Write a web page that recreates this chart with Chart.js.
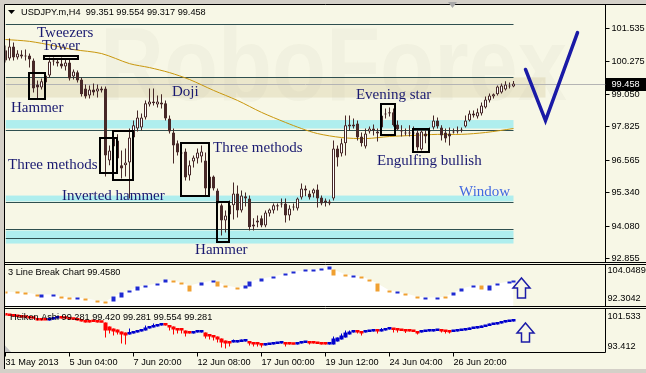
<!DOCTYPE html>
<html>
<head>
<meta charset="utf-8">
<script src="https://cdn.jsdelivr.net/npm/chart.js@4.4.1/dist/chart.umd.min.js"></script>
<style>
  html, body { margin:0; padding:0; width:646px; height:373px; overflow:hidden; background:#d4d0c8; }
  #bg { position:absolute; left:4px; top:4px; width:642px; height:365px; background:#f7f7e6; }
  canvas { position:absolute; left:0; }
</style>
</head>
<body>
<div id="bg"></div>
<canvas id="cMain" width="646" height="264" style="top:0;width:646px;height:264px"></canvas>
<canvas id="cLB" width="646" height="44" style="top:263px;width:646px;height:44px"></canvas>
<canvas id="cHA" width="646" height="66" style="top:307px;width:646px;height:66px"></canvas>
<script>
// ---------- DATA ----------
const categories = Array.from({length: 151}, (_, i) => i);   // H4 bar slots (incl. right shift)

const open = [100.71,100.40,100.86,100.44,100.55,100.48,100.52,100.33,99.42,99.31,
 99.50,99.76,100.29,100.29,100.21,100.10,100.25,99.72,99.88,99.61,
 99.27,99.01,99.23,99.16,99.27,99.27,96.55,97.42,97.31,96.37,
 96.37,96.48,97.42,97.76,97.80,98.18,98.67,98.78,98.67,98.74,
 98.71,98.14,97.61,97.20,96.86,96.89,95.99,96.52,96.63,96.70,
 96.55,95.50,95.95,95.42,94.86,94.29,94.52,94.86,95.31,94.67,
 95.20,95.12,94.06,94.21,94.37,94.10,94.55,94.67,94.82,94.89,
 94.93,94.48,94.78,94.74,95.16,95.50,95.31,95.31,95.46,95.16,
 94.97,94.93,95.12,97.01,96.82,97.20,97.84,97.91,97.95,97.46,
 97.08,97.65,97.76,97.65,97.80,98.29,98.33,98.37,97.91,97.69,
 97.61,97.61,97.57,97.61,96.97,97.57,97.65,97.80,98.06,97.80,
 97.61,97.57,97.65,97.65,97.69,97.84,98.06,98.33,98.21,98.33,
 98.55,98.82,98.97,99.05,99.12,99.23,99.35,99.351];
const high = [100.89,101.16,101.01,100.71,100.71,100.74,100.59,100.40,99.57,99.65,
 99.88,100.44,100.44,100.40,100.44,100.40,100.40,99.99,99.95,99.69,
 99.42,99.38,99.46,99.42,99.35,99.35,97.12,97.57,97.54,96.93,
 97.01,97.76,98.06,98.44,98.33,98.82,99.27,99.27,99.01,99.05,
 98.82,98.25,97.76,97.31,96.93,97.01,96.55,96.74,97.01,97.12,
 96.86,96.10,95.99,95.50,94.93,94.67,95.04,95.72,95.61,95.42,
 95.35,95.23,94.37,94.48,94.48,94.67,94.74,94.93,94.93,95.12,
 95.12,94.86,94.93,95.16,95.69,95.61,95.42,95.50,95.65,95.23,
 95.12,95.08,97.31,97.12,97.38,98.25,98.25,98.14,98.06,97.61,
 97.76,97.84,97.91,97.76,98.44,98.52,98.55,98.52,98.06,97.88,
 97.76,97.88,97.84,97.76,97.76,97.76,97.80,98.25,98.18,97.88,
 97.76,97.80,97.76,97.84,97.80,98.25,98.44,98.44,98.52,98.74,
 98.97,99.08,99.08,99.38,99.46,99.54,99.50,99.554];
const low = [100.25,100.33,100.33,100.37,100.40,100.33,100.06,99.12,98.89,99.23,
 99.27,99.69,100.14,100.10,100.03,99.95,99.57,99.61,99.50,98.97,
 98.89,98.89,99.01,98.93,99.12,95.95,96.37,96.93,96.48,95.87,
 95.95,95.12,97.31,97.65,97.69,98.10,98.59,98.63,98.55,98.52,
 98.06,97.57,96.44,96.74,96.55,95.80,95.80,96.29,96.44,96.48,
 95.23,95.35,95.42,94.82,93.72,93.84,94.44,94.33,94.40,94.59,
 94.82,93.91,93.91,94.03,94.03,94.03,94.44,94.55,94.67,94.78,
 94.21,94.29,94.67,94.67,95.08,95.20,95.08,95.16,94.78,94.86,
 94.82,94.86,95.04,96.33,96.70,96.74,97.69,97.76,97.31,97.08,
 97.01,97.57,97.50,97.27,97.76,98.14,98.21,97.84,97.69,97.46,
 97.50,97.46,97.42,96.93,96.93,97.20,97.54,97.72,97.76,97.31,
 97.23,97.12,97.57,97.57,97.61,97.80,98.03,98.18,98.14,98.25,
 98.52,98.74,98.89,99.01,99.08,99.20,99.27,99.317];
const close = [100.33,100.86,100.44,100.59,100.48,100.52,100.37,99.27,99.31,99.54,
 99.76,100.29,100.33,100.21,100.10,100.25,99.65,99.91,99.57,99.05,
 98.97,99.23,99.12,99.27,99.20,96.74,96.93,97.08,96.63,96.25,
 96.48,97.42,97.88,98.18,98.18,98.71,98.78,98.71,98.78,98.67,
 98.14,97.65,97.12,96.86,96.82,95.91,96.37,96.67,96.86,96.89,
 95.50,95.95,95.50,94.93,94.29,94.48,94.86,95.31,94.67,95.23,
 95.12,94.03,94.14,94.29,94.10,94.59,94.70,94.86,94.86,94.93,
 94.48,94.74,94.82,95.12,95.50,95.42,95.16,95.46,95.12,94.93,
 95.04,95.01,97.01,96.67,97.20,97.88,97.91,97.84,97.42,97.20,
 97.57,97.76,97.69,97.57,98.25,98.33,98.37,97.88,97.72,97.65,
 97.57,97.57,97.61,97.04,97.65,97.46,97.69,98.06,97.84,97.50,
 97.38,97.46,97.61,97.69,97.72,98.06,98.33,98.25,98.37,98.63,
 98.86,99.01,99.05,99.35,99.38,99.42,99.38,99.458];

const maIdx = [0,6,12,17,24,31,36,41,46,52,58,64,70,74,78,84,90,96,102,108,114,120,127];
const maVal = [101.12,101.05,100.89,100.74,100.59,100.21,100.06,99.87,99.61,99.20,98.82,98.37,97.99,97.76,97.57,97.42,97.38,97.46,97.50,97.54,97.54,97.61,97.76];

const vIdx = [130, 135, 143];
const vVal = [99.99, 98.06, 101.38];

const priceTicks = [101.535, 100.275, 99.050, 97.825, 96.565, 95.340, 94.080, 92.855];
const lastPrice = 99.458;

const levelLines = [101.69, 99.69, 97.69, 95.00, 93.95, 93.61];
const cyanHi = [98.08, 95.23, 93.91];
const cyanLo = [97.76, 95.01, 93.42];
const beigeHi = 99.69, beigeLo = 98.93;

const patterns = [
  {i0:5.9, i1:9.9, hi:99.84, lo:98.86},
  {i0:9.6, i1:18.1, hi:100.48, lo:100.37},
  {i0:23.6, i1:27.9, hi:97.42, lo:96.10},
  {i0:26.9, i1:31.9, hi:97.65, lo:95.80},
  {i0:43.9, i1:50.9, hi:97.23, lo:95.23},
  {i0:52.9, i1:55.9, hi:94.97, lo:93.46},
  {i0:93.9, i1:97.4, hi:98.67, lo:97.50},
  {i0:101.9, i1:105.9, hi:97.76, lo:96.89}
];
const notes = [
  {t:'Tweezers', i:7.875, p:101.20},
  {t:'Tower', i:9.125, p:100.71},
  {t:'Hammer', i:1.375, p:98.37},
  {t:'Doji', i:41.6, p:98.97},
  {t:'Evening star', i:87.6, p:98.89},
  {t:'Three methods', i:0.625, p:96.25},
  {t:'Inverted hammer', i:14.1, p:95.08},
  {t:'Three methods', i:51.9, p:96.89},
  {t:'Hammer', i:47.4, p:93.04},
  {t:'Engulfing bullish', i:92.9, p:96.40},
  {t:'Window', i:113.4, p:95.20, c:'#4169e1'}
];

// 3 Line Break bricks
const lbIdx = [0,3,5,8,9,12,14,16,18,20,23,25,27,29,31,33,35,38,40,42,44,46,49,52,53,55,58,60,61,64,67,70,72,75,77,79,81,82,85,87,89,91,93,96,98,100,103,105,108,110,112,114,117,119,121,123,126,127];
const lbOpen = [96.50,96.22,96.22,95.66,94.82,95.10,95.10,94.82,94.26,94.54,93.98,93.70,93.70,94.82,96.22,96.78,97.62,98.18,99.01,99.57,99.01,98.18,98.18,99.01,99.29,98.18,97.62,97.34,97.90,99.29,100.13,100.97,101.53,102.09,102.09,102.37,102.65,102.65,101.25,100.41,100.69,99.85,98.74,96.78,95.94,95.94,95.10,94.26,94.26,95.10,95.38,96.50,97.62,98.18,96.78,98.18,98.74,99.01];
const lbClose = [95.94,95.94,95.66,95.10,95.66,95.66,94.54,94.26,94.82,93.98,93.42,93.14,95.10,96.22,96.78,97.90,98.18,98.74,99.85,99.01,98.46,96.50,99.01,99.57,97.90,97.62,97.06,98.18,99.29,100.13,100.69,101.53,102.09,102.37,102.65,102.93,103.49,100.97,100.69,100.97,100.13,99.29,96.50,96.22,96.50,95.38,94.54,94.82,94.82,94.54,96.22,97.34,98.18,97.06,98.18,98.74,99.29,99.57];
const lbMin = 92.3042, lbMax = 104.0489;
const lbAxisLabels = ['104.0489', '92.3042'];
const lbHeaderValue = 99.4580;

// Heiken Ashi
const haOpen = [100.43,100.24,100.24,100.06,100.06,99.87,99.87,99.69,99.69,99.50,
 99.32,99.32,99.50,99.69,99.87,99.69,99.69,99.50,99.50,99.32,
 99.13,99.13,99.13,99.13,98.95,98.95,98.21,97.84,97.66,97.29,
 97.10,96.73,96.92,97.10,97.29,97.47,97.84,98.03,98.21,98.40,
 98.58,98.40,98.21,97.84,97.66,97.47,97.29,96.92,97.10,97.10,
 97.10,96.73,96.55,96.36,95.99,95.63,95.44,95.26,95.26,95.35,
 95.44,95.44,95.26,95.07,94.89,94.70,94.80,94.89,94.98,95.07,
 95.07,94.98,94.89,94.89,95.07,95.17,95.26,95.17,95.07,95.07,
 94.98,94.89,94.89,95.44,95.81,96.18,96.73,97.10,97.29,97.19,
 97.10,97.19,97.29,97.38,97.29,97.47,97.66,97.75,97.66,97.56,
 97.47,97.38,97.29,97.29,97.10,97.19,97.29,97.29,97.38,97.47,
 97.38,97.29,97.19,97.29,97.38,97.47,97.56,97.75,97.84,97.93,
 98.12,98.30,98.49,98.58,98.77,98.95,99.04,99.13];
const haClose = [100.24,100.15,100.06,99.96,99.87,99.82,99.69,99.65,99.32,99.32,
 99.30,99.50,99.87,99.87,99.69,99.65,99.50,99.46,99.32,99.13,
 98.95,98.95,99.04,98.95,98.90,97.47,97.47,97.29,97.10,96.73,
 96.55,97.10,97.29,97.47,97.66,98.03,98.21,98.40,98.40,98.58,
 98.40,98.03,97.66,97.47,97.47,96.92,96.92,97.10,97.19,97.19,
 96.36,96.36,96.18,95.81,95.26,95.07,95.07,95.44,95.44,95.44,
 95.53,95.07,94.89,94.89,94.70,94.89,94.89,95.07,95.07,95.17,
 94.89,94.89,94.85,95.07,95.26,95.26,95.07,95.07,94.98,94.89,
 94.89,94.98,95.99,96.18,96.55,97.10,97.29,97.29,97.10,96.92,
 97.29,97.38,97.38,97.29,97.66,97.75,97.84,97.56,97.47,97.38,
 97.29,97.29,97.19,96.92,97.29,97.29,97.38,97.47,97.47,97.29,
 97.19,97.10,97.29,97.38,97.47,97.66,97.84,97.93,98.03,98.21,
 98.40,98.58,98.67,98.86,99.04,99.13,99.23,99.28];
const haLowIdx = [25,26,27,28,29,30,41,42,43,44,45,50,51,52,53,54,55,56,61,62,63,64,70,76,88,89,93,97,98,100,103,109,110,111];
const haLowVal = [96.18,96.92,96.55,96.73,95.07,94.89,97.47,96.73,96.92,96.92,96.36,95.99,95.81,95.63,95.26,94.33,94.15,94.52,94.70,94.52,94.52,94.33,94.52,94.89,96.92,96.55,96.92,97.10,97.10,97.01,96.73,97.10,96.92,96.92];
const haHighIdx = [31,35,37,39,47,57,59,65,69,74,82,84,85,86,90,94,96,104,107,112,115,116,119,121,123,125,127];
const haHighVal = [97.84,98.40,98.77,98.77,97.29,95.81,95.81,95.07,95.35,95.44,96.36,96.92,97.47,97.47,97.56,97.93,98.03,97.47,97.66,97.47,97.84,98.03,98.40,98.77,99.04,99.32,99.42];
const haMin = 93.412, haMax = 101.533;
const haAxisLabels = ['101.533', '93.412'];
const haHeaderValues = [99.281, 99.420, 99.281, 99.554, 99.281];

const xTickIdx = [0, 16, 32, 48, 64, 80, 96, 112];
const xTickLabels = ['31 May 2013','5 Jun 04:00','7 Jun 20:00','12 Jun 08:00','17 Jun 00:00','19 Jun 12:00','24 Jun 04:00','26 Jun 20:00'];

// ---------- STYLE ----------
const SANS = '"Liberation Sans", Arial, sans-serif';
const CANDLE = '#472828';
const HA_RED = '#ff0000', HA_BLUE = '#0000cd';
const LB_BLUE = '#1e2ad2', LB_ORANGE = '#f0a030';
const ARROW = '#1c1ca8';

const common = {
  responsive: false, animation: false, events: [],
  plugins: { legend: { display: false }, tooltip: { enabled: false } }
};
const hiddenX = { type: 'category', offset: false, display: false, grid: { offset: false, display: false } };
function fixY(s) { s.width = 40.5; s.paddingTop = 0; s.paddingBottom = 0; }

function drawUpArrow(ctx, cx, top, bottom) {
  ctx.beginPath();
  ctx.moveTo(cx, top);
  ctx.lineTo(cx + 8.5, top + 10);
  ctx.lineTo(cx + 4, top + 10);
  ctx.lineTo(cx + 4, bottom);
  ctx.lineTo(cx - 4, bottom);
  ctx.lineTo(cx - 4, top + 10);
  ctx.lineTo(cx - 8.5, top + 10);
  ctx.closePath();
  ctx.strokeStyle = ARROW; ctx.lineWidth = 1.5; ctx.stroke();
}

// ---------- MAIN CHART ----------
const mainDecor = {
  id: 'mainDecor',
  beforeDatasetsDraw(chart) {
    const { ctx, chartArea: a, scales: { x, y } } = chart;
    ctx.save();
    ctx.beginPath(); ctx.rect(a.left, a.top, a.right - a.left, a.bottom - a.top); ctx.clip();
    // watermark
    ctx.font = 'bold 104px ' + SANS;
    const w = ctx.measureText('RoboForex').width;
    ctx.save(); ctx.translate(100, 100); ctx.scale(467 / w, 1);
    ctx.fillStyle = 'rgba(90,90,70,0.04)'; ctx.textBaseline = 'alphabetic';
    ctx.fillText('RoboForex', 0, 0); ctx.restore();
    const xEnd = x.getPixelForValue(127);
    // beige zone
    const b1 = y.getPixelForValue(beigeHi), b2 = y.getPixelForValue(beigeLo);
    ctx.fillStyle = 'rgba(200,185,130,0.26)';
    ctx.fillRect(a.left, b1, x.getPixelForValue(135) - a.left, b2 - b1);
    // cyan zones
    ctx.fillStyle = '#afeeee';
    cyanHi.forEach((h, k) => {
      const t = y.getPixelForValue(h), bt = y.getPixelForValue(cyanLo[k]);
      ctx.fillRect(a.left, t, xEnd - a.left, bt - t);
    });
    // level lines
    ctx.strokeStyle = '#2f4f4f'; ctx.lineWidth = 1;
    levelLines.forEach(p => {
      const yy = Math.round(y.getPixelForValue(p)) + 0.5;
      ctx.beginPath(); ctx.moveTo(a.left, yy); ctx.lineTo(xEnd, yy); ctx.stroke();
    });
    // current price line
    ctx.strokeStyle = '#b4b4b4';
    const py = Math.round(y.getPixelForValue(lastPrice)) + 0.5;
    ctx.beginPath(); ctx.moveTo(a.left, py); ctx.lineTo(a.right, py); ctx.stroke();
    ctx.restore();
  },
  afterDatasetsDraw(chart) {
    const { ctx, scales: { x, y } } = chart;
    ctx.save();
    ctx.strokeStyle = '#000'; ctx.lineWidth = 2;
    patterns.forEach(b => {
      const x0 = Math.round(x.getPixelForValue(b.i0)), x1 = Math.round(x.getPixelForValue(b.i1));
      const y0 = Math.round(y.getPixelForValue(b.hi)), y1 = Math.round(y.getPixelForValue(b.lo));
      ctx.strokeRect(x0, y0, x1 - x0, y1 - y0);
    });
    ctx.font = '15px "Liberation Serif", "Times New Roman", serif';
    ctx.textBaseline = 'alphabetic'; ctx.textAlign = 'left';
    notes.forEach(n => {
      ctx.fillStyle = n.c || '#191970';
      ctx.fillText(n.t, x.getPixelForValue(n.i), y.getPixelForValue(n.p));
    });
    ctx.restore();
  },
  afterDraw(chart) {
    const { ctx, chartArea: a, scales: { y } } = chart;
    ctx.save();
    // borders
    ctx.strokeStyle = '#000'; ctx.lineWidth = 1;
    ctx.beginPath();
    ctx.moveTo(4.5, 264); ctx.lineTo(4.5, 4.5); ctx.lineTo(646, 4.5);
    ctx.moveTo(4.5, 262.5); ctx.lineTo(646, 262.5);
    ctx.stroke();
    // shift marker
    ctx.fillStyle = '#a8a8a8';
    ctx.beginPath(); ctx.moveTo(448, 2); ctx.lineTo(457, 2); ctx.lineTo(452.5, 8); ctx.closePath(); ctx.fill();
    // header
    ctx.fillStyle = '#000';
    ctx.beginPath(); ctx.moveTo(8, 10); ctx.lineTo(15, 10); ctx.lineTo(11.5, 14); ctx.closePath(); ctx.fill();
    ctx.font = '9.2px ' + SANS; ctx.textBaseline = 'middle'; ctx.textAlign = 'left';
    const n = close.length - 1;
    ctx.fillText('USDJPY.m,H4  ' + [open[n], high[n], low[n], close[n]].map(v => v.toFixed(3)).join(' '), 21, 12.5);
    // price label box
    const py = y.getPixelForValue(lastPrice);
    ctx.fillStyle = '#000'; ctx.fillRect(a.right + 0.5, Math.round(py) - 6, 40, 13);
    ctx.fillStyle = '#fff'; ctx.fillText(lastPrice.toFixed(3), a.right + 6, py + 0.5);
    ctx.restore();
  }
};

new Chart(document.getElementById('cMain'), {
  type: 'bar',
  data: {
    labels: categories,
    datasets: [
      { type: 'line', data: vIdx.map((i, k) => ({ x: i, y: vVal[k] })), borderColor: '#1a1aa6', borderWidth: 3.5,
        pointRadius: 0, borderCapStyle: 'round', borderJoinStyle: 'miter', order: 0 },
      { type: 'bar', data: open.map((o, i) => [o, close[i]]),
        backgroundColor: close.map((c, i) => c >= open[i] ? '#ffffff' : CANDLE),
        borderColor: CANDLE, borderWidth: 1, borderSkipped: false, barThickness: 3, minBarLength: 1,
        grouped: false, inflateAmount: 0, order: 1 },
      { type: 'bar', data: low.map((l, i) => [l, high[i]]), backgroundColor: CANDLE,
        barThickness: 1, grouped: false, inflateAmount: 0, borderWidth: 0, order: 2 },
      { type: 'line', data: maIdx.map((i, k) => ({ x: i, y: maVal[k] })), borderColor: '#c8960c', borderWidth: 1,
        pointRadius: 0, tension: 0.3, order: 3 }
    ]
  },
  options: {
    ...common,
    layout: { padding: { left: 5.5, top: 4.5, bottom: 1.5, right: 0 } },
    scales: {
      x: hiddenX,
      y: {
        position: 'right', min: 92.704, max: 102.441,
        afterFit: fixY,
        afterBuildTicks: s => { s.ticks = priceTicks.map(v => ({ value: v })); },
        ticks: { callback: v => Number(v).toFixed(3), font: { family: 'Liberation Sans', size: 9.2 }, color: '#000', padding: 2, autoSkip: false },
        grid: { drawOnChartArea: false, tickLength: 4, color: '#000' },
        border: { display: true, color: '#000' }
      }
    }
  },
  plugins: [mainDecor]
});

// ---------- 3 LINE BREAK ----------
const lbBars = new Array(128).fill(null);
const lbColors = new Array(128).fill(LB_BLUE);
lbIdx.forEach((i, k) => { lbBars[i] = [lbOpen[k], lbClose[k]]; lbColors[i] = lbClose[k] > lbOpen[k] ? LB_BLUE : LB_ORANGE; });

const lbDecor = {
  id: 'lbDecor',
  afterDraw(chart) {
    const { ctx, chartArea: a, scales: { x } } = chart;
    ctx.save();
    ctx.strokeStyle = '#000'; ctx.lineWidth = 1;
    ctx.beginPath();
    ctx.moveTo(4.5, a.top); ctx.lineTo(646, a.top);
    ctx.moveTo(4.5, a.bottom); ctx.lineTo(646, a.bottom);
    ctx.moveTo(4.5, 0); ctx.lineTo(4.5, 44);
    ctx.moveTo(a.right, a.top); ctx.lineTo(a.right, a.bottom);
    ctx.stroke();
    ctx.font = '9.2px ' + SANS; ctx.fillStyle = '#000'; ctx.textBaseline = 'middle'; ctx.textAlign = 'left';
    ctx.fillText('3 Line Break Chart ' + lbHeaderValue.toFixed(4), 8, a.top + 7.5);
    ctx.fillText(lbAxisLabels[0], a.right + 2, a.top + 5.5);
    ctx.fillText(lbAxisLabels[1], a.right + 2, a.bottom - 8.5);
    drawUpArrow(ctx, x.getPixelForValue(129), a.top + 13.5, a.top + 33.5);
    ctx.restore();
  }
};

new Chart(document.getElementById('cLB'), {
  type: 'bar',
  data: {
    labels: categories,
    datasets: [
      { type: 'bar', data: lbBars, backgroundColor: lbColors, barThickness: 4, minBarLength: 2,
        grouped: false, inflateAmount: 0, borderWidth: 0, order: 1 },
      { type: 'line', data: lbIdx.map((i, k) => ({ x: i, y: Math.max(lbOpen[k], lbClose[k]) })),
        fill: 'start', backgroundColor: '#ffffff', borderColor: 'rgba(0,0,0,0)', borderWidth: 0, pointRadius: 0, order: 2 }
    ]
  },
  options: {
    ...common,
    layout: { padding: { left: 5.5, top: 1.5, bottom: 0.5, right: 0 } },
    scales: {
      x: hiddenX,
      y: { position: 'right', min: lbMin, max: lbMax, afterFit: fixY,
           ticks: { display: false }, grid: { display: false }, border: { display: false } }
    }
  },
  plugins: [lbDecor]
});

// ---------- HEIKEN ASHI ----------
const haLoMap = {}, haHiMap = {};
haLowIdx.forEach((i, k) => { haLoMap[i] = haLowVal[k]; });
haHighIdx.forEach((i, k) => { haHiMap[i] = haHighVal[k]; });
const haColors = haOpen.map((o, i) => haClose[i] < o ? HA_RED : HA_BLUE);
const haWicks = haOpen.map((o, i) => [
  haLoMap[i] !== undefined ? haLoMap[i] : Math.min(o, haClose[i]),
  haHiMap[i] !== undefined ? haHiMap[i] : Math.max(o, haClose[i])
]);

const haDecor = {
  id: 'haDecor',
  afterDraw(chart) {
    const { ctx, chartArea: a, scales: { x } } = chart;
    ctx.save();
    ctx.strokeStyle = '#000'; ctx.lineWidth = 1;
    ctx.beginPath();
    ctx.moveTo(4.5, a.top); ctx.lineTo(646, a.top);
    ctx.moveTo(4.5, a.bottom); ctx.lineTo(a.right, a.bottom);
    ctx.moveTo(4.5, 0); ctx.lineTo(4.5, 62);
    ctx.moveTo(a.right, a.top); ctx.lineTo(a.right, a.bottom);
    ctx.stroke();
    ctx.fillStyle = '#c4c4c4';
    ctx.beginPath(); ctx.moveTo(5, a.bottom - 0.5); ctx.lineTo(5, a.bottom - 7); ctx.lineTo(11, a.bottom - 0.5); ctx.closePath(); ctx.fill();
    ctx.font = '9.2px ' + SANS; ctx.fillStyle = '#000'; ctx.textBaseline = 'middle'; ctx.textAlign = 'left';
    ctx.fillText('Heiken Ashi ' + haHeaderValues.map(v => v.toFixed(3)).join(' '), 10, a.top + 8.5);
    ctx.fillText(haAxisLabels[0], a.right + 2, a.top + 7.5);
    ctx.fillText(haAxisLabels[1], a.right + 2, a.bottom - 6.5);
    drawUpArrow(ctx, x.getPixelForValue(130), a.top + 14.5, a.top + 33.5);
    ctx.restore();
  }
};

new Chart(document.getElementById('cHA'), {
  type: 'bar',
  data: {
    labels: categories,
    datasets: [
      { type: 'bar', data: haOpen.map((o, i) => [o, haClose[i]]), backgroundColor: haColors,
        barThickness: 4, minBarLength: 2.5, grouped: false, inflateAmount: 0, borderWidth: 0, order: 1 },
      { type: 'bar', data: haWicks, backgroundColor: haColors,
        barThickness: 1, grouped: false, inflateAmount: 0, borderWidth: 0, order: 2 }
    ]
  },
  options: {
    ...common,
    layout: { padding: { left: 5.5, top: 1.5, bottom: 4.5, right: 0 } },
    scales: {
      x: {
        type: 'category', offset: false, position: 'bottom',
        afterFit: s => { s.height = 16; s.paddingLeft = 0; s.paddingRight = 0; },
        afterBuildTicks: s => { s.ticks = xTickIdx.map(v => ({ value: v })); },
        ticks: { callback: (v, i) => xTickLabels[i], align: 'start', maxRotation: 0, minRotation: 0, autoSkip: false,
                 font: { family: 'Liberation Sans', size: 9.2 }, color: '#000', padding: 0 },
        grid: { offset: false, drawOnChartArea: false, drawTicks: true, tickLength: 4, color: '#000' },
        border: { display: false }
      },
      y: { position: 'right', min: haMin, max: haMax, afterFit: fixY,
           ticks: { display: false }, grid: { display: false }, border: { display: false } }
    }
  },
  plugins: [haDecor]
});
</script>
</body>
</html>
